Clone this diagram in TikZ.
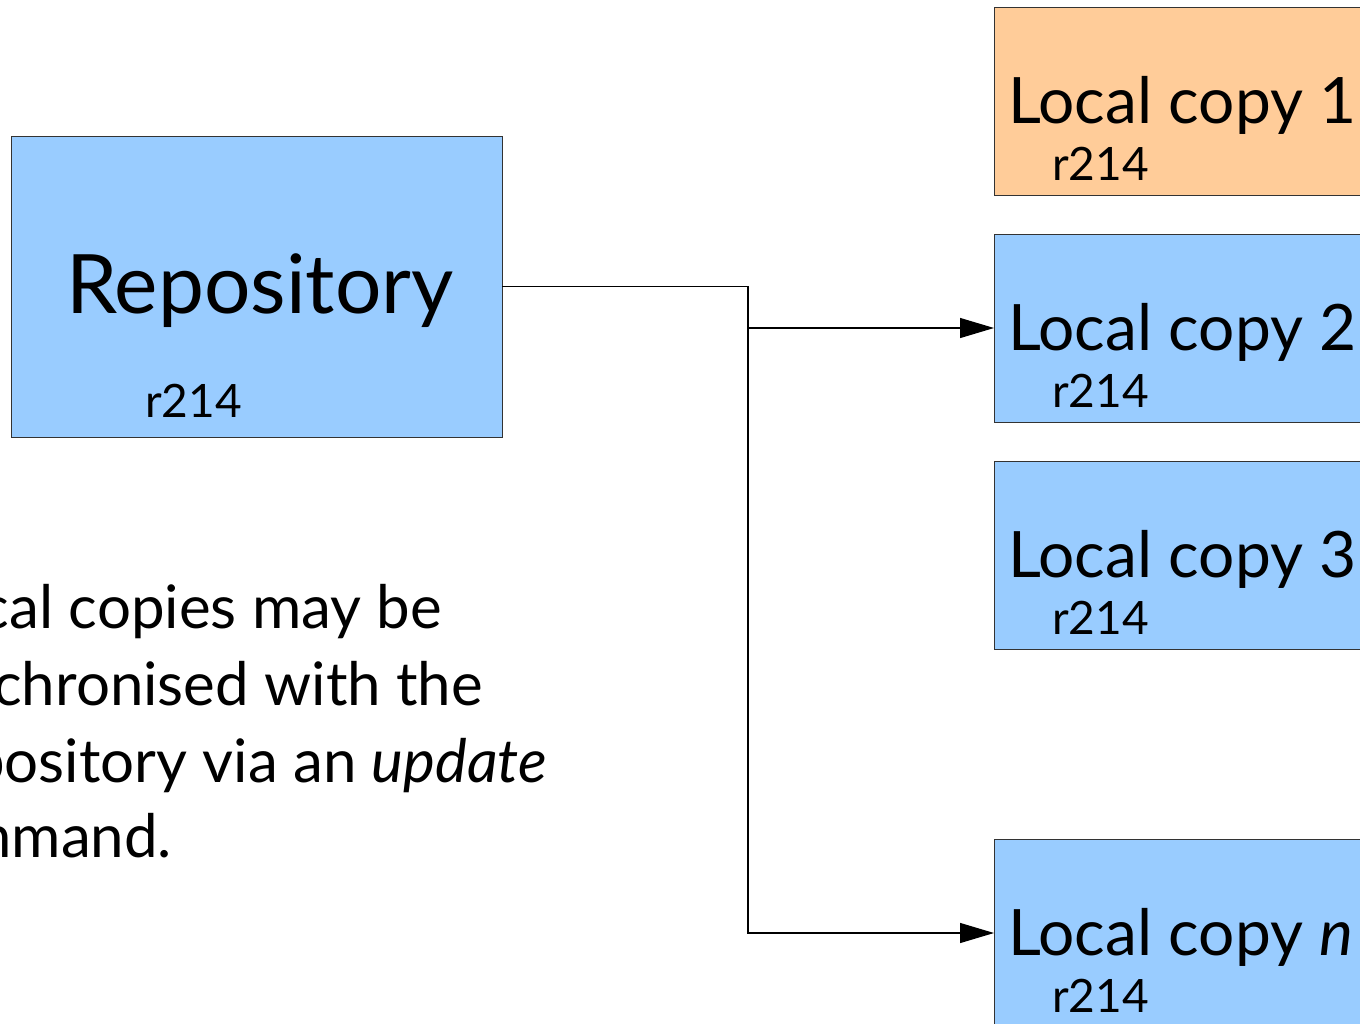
\documentclass[tikz,border=0pt]{standalone}
\usepackage{fontspec}
\setmainfont{Lato}
\usetikzlibrary{arrows.meta}
\definecolor{repoblue}{HTML}{99CCFF}
\definecolor{localorange}{HTML}{FFCC99}
\definecolor{edgegray}{HTML}{333333}
\begin{document}
\begin{tikzpicture}[x=1pt,y=-1pt,
  box/.style={draw=edgegray, line width=1pt, rectangle, inner sep=0pt, outer sep=0pt},
  repobox/.style={box, fill=repoblue, minimum width=491pt, minimum height=301pt, anchor=north west},
  localbox/.style={box, minimum width=420pt, minimum height=188pt, anchor=north west},
  conn/.style={line width=1.2pt, -{Triangle[length=34pt,width=20pt]}},
  txt/.style={inner sep=0pt, outer sep=0pt, text=black},
  bigtxt/.style={txt, font=\fontsize{82}{82}\selectfont},
  midtxt/.style={txt, font=\fontsize{64}{64}\selectfont},
  revtxt/.style={txt, font=\fontsize{46}{46}\selectfont},
  bodytxt/.style={txt, font=\fontsize{60}{60}\selectfont}]
\useasboundingbox (0,0) rectangle (1360,1023);
\clip (0,0) rectangle (1360,1023);
\fill[white] (0,0) rectangle (1360,1023);

% repository
\node[repobox] (repo) at (11,136) {};
\node[bigtxt, anchor=base west] (repotitle) at (66,313) {Repository};
\node[revtxt, anchor=base west] (reporev) at (145,417) {r214};

% local copies
\node[localbox, fill=localorange] (lc1) at (994,7) {};
\node[localbox, fill=repoblue] (lc2) at (994,234) {};
\node[localbox, fill=repoblue] (lc3) at (994,461) {};
\node[localbox, fill=repoblue] (lcn) at (994,839) {};

\node[midtxt, anchor=base west] (lc1t) at (1008,123) {Local copy 1};
\node[revtxt, anchor=base west] (lc1r) at (1052,180) {r214};
\node[midtxt, anchor=base west] (lc2t) at (1008,350) {Local copy 2};
\node[revtxt, anchor=base west] (lc2r) at (1052,407) {r214};
\node[midtxt, anchor=base west] (lc3t) at (1008,577) {Local copy 3};
\node[revtxt, anchor=base west] (lc3r) at (1052,634) {r214};
\node[midtxt, anchor=base west] (lcnt) at (1008,955) {Local copy \textit{n}};
\node[revtxt, anchor=base west] (lcnr) at (1052,1012) {r214};

% connectors
\path (repo.east) -- ++(246,0) coordinate (split);
\draw[conn] (repo.east) -- (split) |- (lcn.west);
\draw[conn] (split) |- (lc2.west);

% description
\node[bodytxt, anchor=base east] (d1) at (442,628) {Local copies may be};
\node[bodytxt, anchor=base east] (d2) at (483,705) {synchronised with the};
\node[bodytxt, anchor=base east] (d3) at (547,782) {repository via an \textit{update}};
\node[bodytxt, anchor=base east] (d4) at (172,857) {command.};
\end{tikzpicture}
\end{document}
